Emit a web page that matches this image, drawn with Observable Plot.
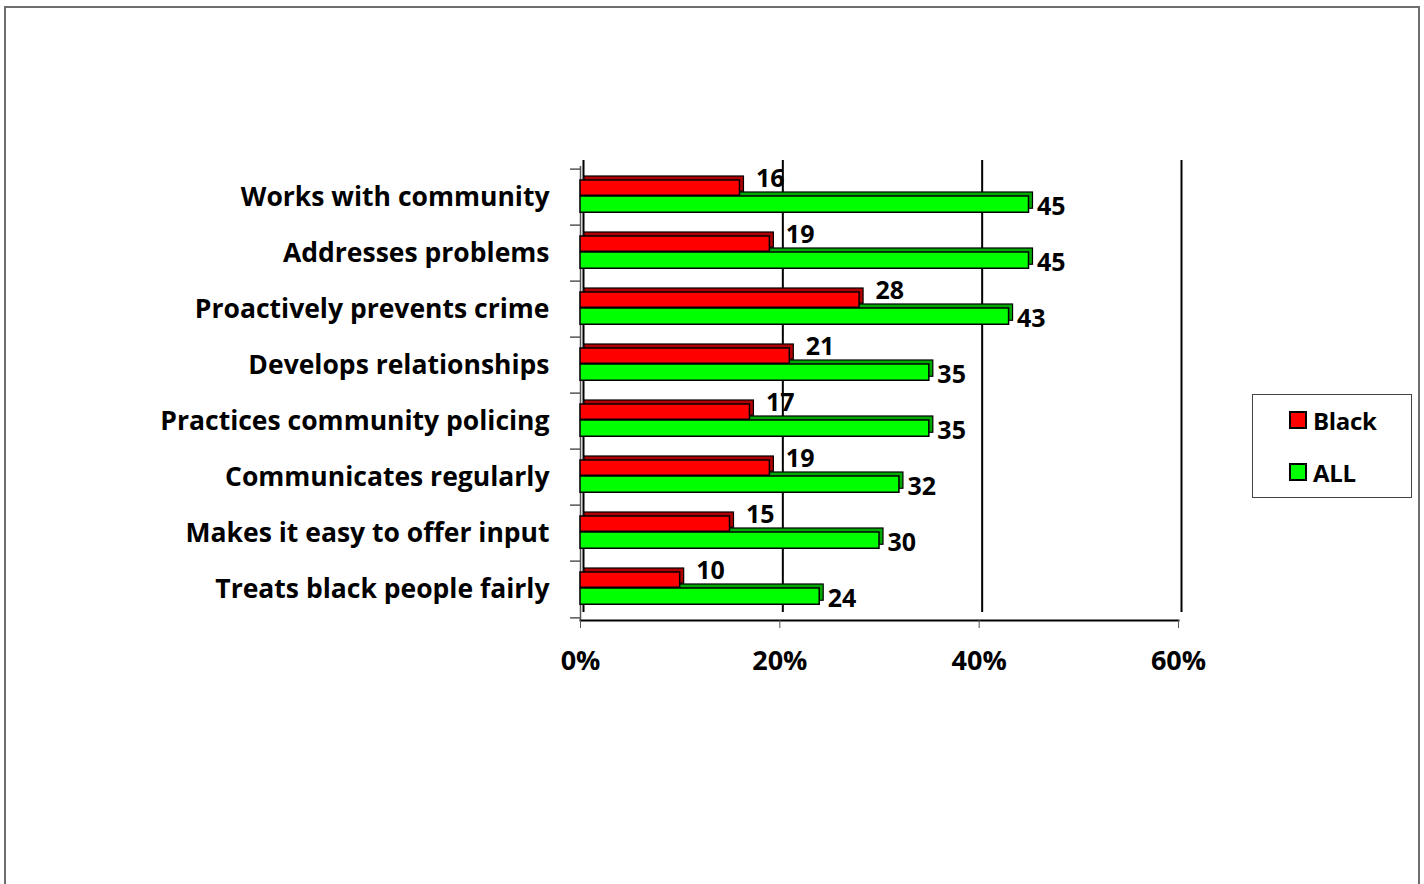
<!DOCTYPE html>
<html><head><meta charset="utf-8">
<script src="https://cdn.jsdelivr.net/npm/d3@7"></script>
<script src="https://cdn.jsdelivr.net/npm/@observablehq/plot@0.6"></script>
<style>
body{margin:0;background:#fff;font-family:"Open Sans", Lato, sans-serif;}
#wrap{position:relative;width:1424px;height:884px;overflow:hidden;}
#border{position:absolute;left:4px;top:6px;width:1416px;height:900px;border:2px solid #6e6e6e;box-sizing:border-box;}
#chart{position:absolute;left:0;top:0;}
#chart svg text{font-weight:700;fill:#000;}
#legend{position:absolute;left:1252px;top:394px;width:160px;height:104px;border:1px solid #444;box-sizing:border-box;background:#fff;}
.item{position:absolute;left:36px;height:26px;display:flex;align-items:center;font-weight:700;font-size:24px;color:#000;letter-spacing:-0.3px;}
.sw{width:14px;height:14px;border:2px solid #000;margin-right:6px;}
</style></head>
<body>
<div id="wrap">
  <div id="border"></div>
  <div id="chart"></div>
  <div id="legend">
    <div class="item" style="top:12px"><span class="sw" style="background:#ff0000"></span>Black</div>
    <div class="item" style="top:64px"><span class="sw" style="background:#00ff00"></span>ALL</div>
  </div>
</div>
<script>
const categories = [
  "Works with community",
  "Addresses problems",
  "Proactively prevents crime",
  "Develops relationships",
  "Practices community policing",
  "Communicates regularly",
  "Makes it easy to offer input",
  "Treats black people fairly"
];
const blackValues = [16, 19, 28, 21, 17, 19, 15, 10];
const allValues = [45, 45, 43, 35, 35, 32, 30, 24];
const xTicks = [0, 20, 40, 60];

const data = categories.map((c, i) => ({category: c, black: blackValues[i], all: allValues[i]}));

const mT = 166, mB = 264, H = 884;
const bw = (H - mT - mB) / categories.length;

const chart = Plot.plot({
  width: 1424,
  height: H,
  marginLeft: 580,
  marginRight: 246,
  marginTop: mT,
  marginBottom: mB,
  style: {fontFamily: "'Open Sans', Lato, sans-serif", background: "transparent", overflow: "visible"},
  x: {domain: [0, 60]},
  y: {domain: categories, padding: 0},
  marks: [
    // back wall grid
    Plot.ruleX(xTicks, {dx: 3, insetTop: -6, insetBottom: 8, stroke: "#000", strokeWidth: 2}),
    // left axis line
    Plot.ruleX([0], {stroke: "#555", strokeWidth: 1.5}),
    // left boundary ticks
    Plot.ruleY(categories, {y: d => d, x1: -1, x2: 0, dy: -bw / 2, stroke: "#555", strokeWidth: 1.5}),
    Plot.ruleY([categories[categories.length - 1]], {y: d => d, x1: -1, x2: 0, dy: bw / 2, stroke: "#555", strokeWidth: 1.5}),
    // floor
    Plot.frame({anchor: "bottom", stroke: "#000", strokeWidth: 2}),
    // ALL bars (depth + front)
    Plot.barX(data, {y: "category", x: "all", fill: "#00a800", stroke: "#000", strokeWidth: 1.2, insetTop: 27, insetBottom: bw - 44, dx: 4, dy: -4}),
    Plot.barX(data, {y: "category", x: "all", fill: "#00ff00", stroke: "#000", strokeWidth: 1.5, insetTop: 27, insetBottom: bw - 44}),
    // Black bars (depth + front)
    Plot.barX(data, {y: "category", x: "black", fill: "#b00000", stroke: "#000", strokeWidth: 1.2, insetTop: 11, insetBottom: bw - 27, dx: 4, dy: -4}),
    Plot.barX(data, {y: "category", x: "black", fill: "#ff0000", stroke: "#000", strokeWidth: 1.5, insetTop: 11, insetBottom: bw - 27}),
    // value labels
    Plot.text(data, {y: "category", x: "black", text: d => String(d.black), textAnchor: "start", dx: 16, dy: -19, fontSize: 25, fontWeight: "bold", fill: "#000"}),
    Plot.text(data, {y: "category", x: "all", text: d => String(d.all), textAnchor: "start", dx: 8, dy: 9, fontSize: 25, fontWeight: "bold", fill: "#000"}),
    // axes
    Plot.axisX({ticks: xTicks, tickFormat: d => d + "%", tickSize: 8, tickPadding: 22, fontSize: 27, label: null, stroke: "#555"}),
    Plot.axisY({tickSize: 0, tickPadding: 31, fontSize: 26.5, label: null})
  ]
});
document.getElementById("chart").appendChild(chart);
</script>
</body></html>
